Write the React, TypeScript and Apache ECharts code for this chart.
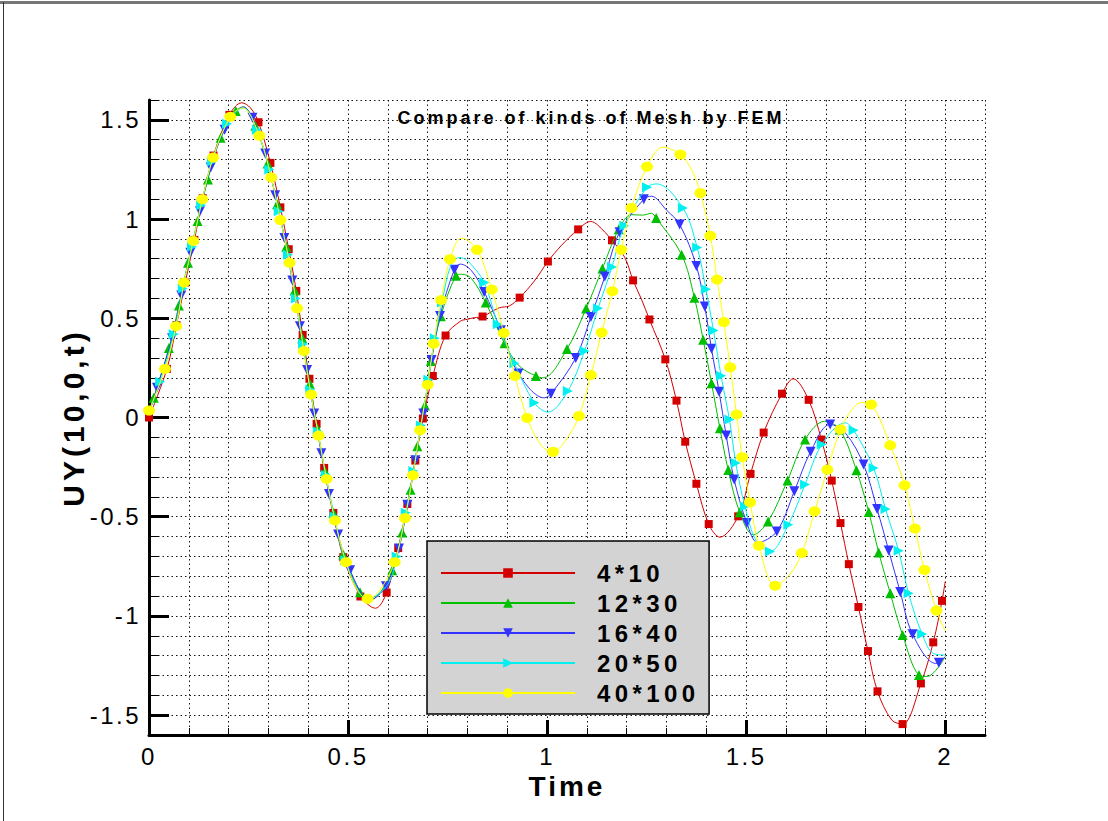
import React, { useEffect, useRef } from "react";
import * as echarts from "echarts";

const titleText = "Compare of kinds of Mesh by FEM";
const xName = "Time";
const yName = "UY(10,0,t)";
const seriesNames = ["4*10", "12*30", "16*40", "20*50", "40*100"];
const seriesColors = ["#d40000", "#00c000", "#3333ff", "#00f0f0", "#ffff00"];
const xLabelValues = [0, 0.5, 1, 1.5, 2];
const yLabelValues = [-1.5, -1, -0.5, 0, 0.5, 1, 1.5];

// rows: [time, UY, 1 = drawn with a marker / 0 = curve point only]
const mesh4x10 = [
  [0, 0.0, 1], [0.045, 0.245, 1], [0.069, 0.465, 1], [0.091, 0.68, 1], [0.114, 0.895, 1],
  [0.135, 1.105, 1], [0.162, 1.32, 1], [0.202, 1.525, 1], [0.233, 1.586, 0], [0.255, 1.56, 0],
  [0.275, 1.488, 1], [0.305, 1.283, 1], [0.33, 1.059, 1], [0.351, 0.848, 1], [0.37, 0.638, 1],
  [0.386, 0.416, 1], [0.403, 0.195, 1], [0.421, -0.032, 1], [0.44, -0.254, 1], [0.463, -0.481, 1],
  [0.488, -0.704, 1], [0.531, -0.902, 1], [0.555, -0.95, 0], [0.569, -0.961, 0], [0.597, -0.882, 1],
  [0.626, -0.658, 1], [0.649, -0.436, 1], [0.669, -0.217, 1], [0.688, -0.005, 1], [0.713, 0.209, 1],
  [0.745, 0.413, 1], [0.783, 0.486, 0], [0.8, 0.495, 0], [0.817, 0.503, 0], [0.838, 0.509, 1],
  [0.88, 0.553, 0], [0.905, 0.562, 0], [0.931, 0.604, 1], [0.968, 0.688, 0], [1.002, 0.786, 1],
  [1.035, 0.865, 0], [1.078, 0.948, 1], [1.11, 0.988, 0], [1.127, 0.97, 0], [1.163, 0.893, 1],
  [1.195, 0.807, 0], [1.216, 0.691, 1], [1.237, 0.596, 0], [1.257, 0.494, 1], [1.297, 0.293, 1],
  [1.325, 0.085, 1], [1.347, -0.122, 1], [1.375, -0.334, 1], [1.406, -0.537, 1], [1.434, -0.603, 0],
  [1.48, -0.498, 1], [1.511, -0.284, 1], [1.544, -0.076, 1], [1.59, 0.12, 1], [1.618, 0.195, 0],
  [1.657, 0.089, 1], [1.689, -0.111, 1], [1.715, -0.318, 1], [1.737, -0.532, 1], [1.758, -0.739, 1],
  [1.782, -0.955, 1], [1.806, -1.177, 1], [1.83, -1.38, 1], [1.866, -1.525, 0], [1.893, -1.545, 1],
  [1.939, -1.34, 1], [1.97, -1.133, 1], [1.992, -0.924, 1], [2.0, -0.827, 0],
];

const mesh12x30 = [
  [0, 0.02, 0], [0.012, 0.1, 1], [0.05, 0.35, 1], [0.075, 0.565, 1], [0.098, 0.78, 1],
  [0.122, 0.99, 1], [0.148, 1.2, 1], [0.18, 1.41, 1], [0.218, 1.545, 1], [0.237, 1.565, 0],
  [0.267, 1.47, 1], [0.298, 1.28, 1], [0.322, 1.075, 1], [0.345, 0.86, 1], [0.366, 0.64, 1],
  [0.385, 0.4, 1], [0.404, 0.17, 1], [0.423, -0.055, 1], [0.442, -0.27, 1], [0.463, -0.48, 1],
  [0.488, -0.69, 1], [0.53, -0.88, 1], [0.555, -0.92, 0], [0.585, -0.87, 0], [0.611, -0.77, 1],
  [0.636, -0.58, 1], [0.657, -0.364, 1], [0.674, -0.145, 1], [0.693, 0.06, 1], [0.708, 0.285, 1],
  [0.733, 0.51, 1], [0.771, 0.714, 1], [0.785, 0.722, 0], [0.81, 0.7, 0], [0.846, 0.579, 1],
  [0.893, 0.374, 1], [0.93, 0.26, 0], [0.972, 0.209, 1], [0.99, 0.2, 0], [1.05, 0.345, 1],
  [1.098, 0.549, 1], [1.139, 0.751, 1], [1.18, 0.949, 1], [1.212, 1.022, 0], [1.24, 1.02, 0],
  [1.262, 1.029, 0], [1.274, 1.005, 1], [1.338, 0.82, 1], [1.37, 0.604, 1], [1.392, 0.392, 1],
  [1.413, 0.173, 1], [1.434, -0.054, 1], [1.455, -0.265, 1], [1.484, -0.478, 1], [1.518, -0.591, 0],
  [1.555, -0.524, 1], [1.604, -0.317, 1], [1.648, -0.111, 1], [1.697, -0.019, 0], [1.735, -0.06, 1],
  [1.777, -0.266, 1], [1.808, -0.476, 1], [1.833, -0.68, 1], [1.862, -0.886, 1], [1.893, -1.096, 1],
  [1.934, -1.298, 1], [1.955, -1.305, 0], [2.0, -1.205, 0],
];

const mesh16x40 = [
  [0, 0.02, 0], [0.02, 0.15, 1], [0.058, 0.4, 1], [0.081, 0.615, 1], [0.104, 0.83, 1],
  [0.128, 1.04, 1], [0.155, 1.26, 1], [0.19, 1.45, 1], [0.237, 1.565, 0], [0.26, 1.51, 1],
  [0.292, 1.33, 1], [0.317, 1.12, 1], [0.34, 0.905, 1], [0.36, 0.69, 1], [0.379, 0.46, 1],
  [0.397, 0.24, 1], [0.415, 0.02, 1], [0.433, -0.18, 1], [0.452, -0.385, 1], [0.475, -0.59, 1],
  [0.505, -0.77, 1], [0.555, -0.92, 0], [0.595, -0.85, 1], [0.628, -0.66, 1], [0.649, -0.44, 1],
  [0.669, -0.215, 1], [0.689, 0.02, 1], [0.71, 0.29, 1], [0.731, 0.512, 1], [0.767, 0.745, 1],
  [0.782, 0.773, 0], [0.81, 0.74, 0], [0.842, 0.633, 1], [0.884, 0.44, 1], [0.928, 0.222, 1],
  [0.993, 0.099, 0], [1.01, 0.12, 1], [1.072, 0.3, 1], [1.11, 0.507, 1], [1.145, 0.71, 1],
  [1.182, 0.933, 1], [1.243, 1.1, 1], [1.262, 1.115, 0], [1.3, 1.045, 0], [1.333, 0.973, 1],
  [1.375, 0.764, 1], [1.396, 0.559, 1], [1.413, 0.347, 1], [1.432, 0.13, 1], [1.45, -0.091, 1],
  [1.47, -0.313, 1], [1.502, -0.532, 1], [1.529, -0.63, 0], [1.577, -0.574, 1], [1.621, -0.372, 1],
  [1.662, -0.172, 1], [1.711, -0.035, 1], [1.75, -0.08, 0], [1.795, -0.237, 1], [1.829, -0.461, 1],
  [1.858, -0.67, 1], [1.887, -0.879, 1], [1.918, -1.092, 1], [1.976, -1.239, 0], [1.984, -1.236, 1],
  [2.0, -1.205, 0],
];

const mesh20x50 = [
  [0, 0.03, 0], [0.028, 0.18, 1], [0.062, 0.42, 1], [0.085, 0.65, 1], [0.108, 0.86, 1],
  [0.131, 1.07, 1], [0.158, 1.29, 1], [0.196, 1.48, 1], [0.237, 1.56, 0], [0.271, 1.45, 1],
  [0.302, 1.25, 1], [0.326, 1.04, 1], [0.349, 0.82, 1], [0.369, 0.6, 1], [0.387, 0.37, 1],
  [0.405, 0.14, 1], [0.424, -0.07, 1], [0.444, -0.29, 1], [0.466, -0.5, 1], [0.493, -0.72, 1],
  [0.55, -0.915, 0], [0.6, -0.84, 0], [0.622, -0.7, 1], [0.645, -0.48, 1], [0.664, -0.27, 1],
  [0.683, -0.04, 1], [0.702, 0.19, 1], [0.718, 0.4, 1], [0.736, 0.58, 1], [0.757, 0.76, 0],
  [0.779, 0.806, 0], [0.8, 0.79, 0], [0.842, 0.68, 1], [0.876, 0.47, 1], [0.918, 0.273, 1],
  [0.968, 0.074, 1], [1.002, 0.027, 0], [1.052, 0.133, 1], [1.094, 0.335, 1], [1.128, 0.55, 1],
  [1.163, 0.758, 1], [1.194, 0.966, 1], [1.251, 1.16, 1], [1.275, 1.177, 0], [1.341, 1.056, 1],
  [1.377, 0.857, 1], [1.399, 0.646, 1], [1.418, 0.438, 1], [1.437, 0.21, 1], [1.458, -0.01, 1],
  [1.474, -0.229, 1], [1.497, -0.448, 1], [1.525, -0.62, 0], [1.56, -0.675, 1], [1.606, -0.54, 1],
  [1.648, -0.338, 1], [1.69, -0.136, 1], [1.749, -0.027, 0], [1.77, -0.064, 1], [1.82, -0.254, 1],
  [1.85, -0.461, 1], [1.883, -0.672, 1], [1.908, -0.886, 1], [1.942, -1.091, 1], [1.971, -1.19, 0],
  [2.0, -1.197, 0],
];

const mesh40x100 = [
  [0, 0.035, 1], [0.04, 0.245, 1], [0.068, 0.46, 1], [0.088, 0.68, 1], [0.111, 0.89, 1],
  [0.134, 1.1, 1], [0.161, 1.31, 1], [0.204, 1.515, 1], [0.235, 1.56, 0], [0.277, 1.42, 1],
  [0.307, 1.21, 1], [0.33, 0.995, 1], [0.353, 0.78, 1], [0.372, 0.55, 1], [0.389, 0.335, 1],
  [0.407, 0.116, 1], [0.426, -0.091, 1], [0.446, -0.31, 1], [0.467, -0.519, 1], [0.495, -0.729, 1],
  [0.52, -0.86, 0], [0.549, -0.914, 1], [0.58, -0.87, 0], [0.617, -0.729, 1], [0.643, -0.507, 1],
  [0.663, -0.291, 1], [0.681, -0.064, 1], [0.7, 0.165, 1], [0.715, 0.372, 1], [0.734, 0.592, 1],
  [0.756, 0.798, 1], [0.785, 0.904, 0], [0.824, 0.845, 1], [0.861, 0.645, 1], [0.891, 0.426, 1],
  [0.919, 0.209, 1], [0.95, -0.002, 1], [0.985, -0.14, 0], [1.015, -0.173, 1], [1.045, -0.12, 0],
  [1.08, 0.007, 1], [1.11, 0.214, 1], [1.137, 0.428, 1], [1.164, 0.636, 1], [1.186, 0.845, 1],
  [1.212, 1.056, 1], [1.251, 1.264, 1], [1.291, 1.362, 0], [1.335, 1.325, 1], [1.365, 1.24, 0],
  [1.385, 1.131, 1], [1.41, 0.916, 1], [1.427, 0.695, 1], [1.444, 0.481, 1], [1.46, 0.253, 1],
  [1.476, 0.015, 1], [1.49, -0.2, 1], [1.51, -0.428, 1], [1.532, -0.646, 1], [1.573, -0.848, 1],
  [1.61, -0.79, 0], [1.64, -0.683, 1], [1.672, -0.473, 1], [1.704, -0.263, 1], [1.737, -0.06, 1],
  [1.766, 0.04, 0], [1.79, 0.075, 0], [1.814, 0.065, 1], [1.862, -0.14, 1], [1.898, -0.342, 1],
  [1.924, -0.56, 1], [1.948, -0.768, 1], [1.978, -0.973, 1], [2.0, -1.076, 0],
];

const seriesRows = [mesh4x10, mesh12x30, mesh16x40, mesh20x50, mesh40x100];
const seriesSymbols = ["rect", "triangle", "triangle", "triangle", "circle"];
const seriesSymbolRotate = [0, 0, 180, -90, 0];
const seriesSymbolSize: any[] = [8, 10, 10, 10, [12, 10]];

const fontReg = "'Liberation Sans', Arial, sans-serif";

function toData(rows: number[][]) {
  return rows.map(([t, y, m]) =>
    m ? { value: [t, y] } : { value: [t, y], symbol: "none" }
  );
}

const tickStrings = ["0", "0.5", "1", "1.5", "2", "-0.5", "-1", "-1.5"];

function spacingFor(s: string): number {
  if (s === titleText) return 3;
  if (seriesNames.includes(s)) return 4.4;
  if (s === xName) return 3;
  if (s === yName) return 4;
  if (tickStrings.includes(s)) return 2.5;
  return 0;
}

export default function App() {
  const ref = useRef<HTMLDivElement>(null);
  useEffect(() => {
    document.body.style.margin = "0";
    const el = ref.current!;
    const chart = echarts.init(el, undefined, { renderer: "svg" });

    const series = seriesRows.map((rows, i) => ({
      name: seriesNames[i],
      type: "line",
      data: toData(rows),
      smooth: 0.35,
      symbol: seriesSymbols[i],
      symbolSize: seriesSymbolSize[i],
      symbolRotate: seriesSymbolRotate[i],
      showSymbol: true,
      lineStyle: { width: 1, color: seriesColors[i] },
      itemStyle: { color: seriesColors[i], borderWidth: 0 },
      emphasis: { disabled: true },
      silent: true,
      z: 3 + i,
    }));

    chart.setOption({
      animation: false,
      backgroundColor: "#ffffff",
      title: {
        text: titleText,
        left: 586,
        top: 104,
        textAlign: "center",
        textStyle: { fontFamily: fontReg, fontSize: 18, fontWeight: "bold", color: "#000" },
      },
      legend: {
        orient: "vertical",
        left: 427,
        top: 541,
        backgroundColor: "#d3d3d3",
        borderColor: "#000",
        borderWidth: 1.5,
        borderRadius: 0,
        padding: [20, 36, 9, 13],
        itemGap: 6,
        itemWidth: 134,
        itemHeight: 12,
        selectedMode: false,
        data: seriesNames,
        textStyle: {
          fontFamily: fontReg,
          fontSize: 24,
          fontWeight: "bold",
          color: "#000",
          padding: [0, 0, 0, 17],
        },
      },
      grid: { left: 149, right: 123, top: 100, bottom: 86, containLabel: false },
      xAxis: [
        {
          type: "value",
          min: 0,
          max: 2.1,
          interval: 0.1,
          name: xName,
          nameLocation: "middle",
          nameGap: 29,
          nameTextStyle: { fontFamily: fontReg, fontSize: 28, fontWeight: "bold", color: "#000" },
          axisLine: { show: true, onZero: false, lineStyle: { color: "#000", width: 3 } },
          axisTick: { show: true, inside: true, length: 7, lineStyle: { color: "#000", width: 1 } },
          axisLabel: {
            customValues: xLabelValues,
            margin: 9,
            fontFamily: fontReg,
            fontSize: 24,
            color: "#000",
          },
          splitLine: { show: true, lineStyle: { color: "#111", width: 1, type: [1.5, 3] } },
        },
        {
          type: "value",
          min: 0,
          max: 2.1,
          interval: 0.1,
          position: "bottom",
          offset: 0,
          axisLine: { show: false, onZero: false },
          axisTick: {
            show: true,
            inside: true,
            length: 15,
            customValues: xLabelValues,
            lineStyle: { color: "#000", width: 3 },
          },
          axisLabel: { show: false },
          splitLine: { show: false },
        },
      ],
      yAxis: [
        {
          type: "value",
          min: -1.6,
          max: 1.6,
          interval: 0.1,
          name: yName,
          nameLocation: "middle",
          nameGap: 58,
          nameRotate: 90,
          nameTextStyle: { fontFamily: fontReg, fontSize: 30, fontWeight: "bold", color: "#000" },
          axisLine: { show: true, onZero: false, lineStyle: { color: "#000", width: 3 } },
          axisTick: { show: true, inside: true, length: 10, lineStyle: { color: "#000", width: 1 } },
          axisLabel: {
            customValues: yLabelValues,
            margin: 8,
            fontFamily: fontReg,
            fontSize: 24,
            color: "#000",
          },
          splitLine: { show: true, lineStyle: { color: "#111", width: 1, type: [1.5, 3] } },
        },
        {
          type: "value",
          min: -1.6,
          max: 1.6,
          interval: 0.1,
          position: "left",
          offset: 0,
          axisLine: { show: false, onZero: false },
          axisTick: {
            show: true,
            inside: true,
            length: 20,
            customValues: yLabelValues,
            lineStyle: { color: "#000", width: 3 },
          },
          axisLabel: { show: false },
          splitLine: { show: false },
        },
      ],
      graphic: [
        {
          type: "line",
          shape: { x1: 0, y1: 2.5, x2: 1108, y2: 2.5 },
          style: { stroke: "#777", lineWidth: 3 },
          silent: true,
        },
        {
          type: "line",
          shape: { x1: 3.5, y1: 2, x2: 3.5, y2: 821 },
          style: { stroke: "#333", lineWidth: 1 },
          silent: true,
        },
      ],
      series,
    });

    const applySpacing = () => {
      el.querySelectorAll("text").forEach((t) => {
        const ls = spacingFor((t.textContent || "").trim());
        if (ls) t.setAttribute("letter-spacing", String(ls));
      });
    };
    applySpacing();
    chart.on("finished", applySpacing);
    const timer = window.setTimeout(applySpacing, 50);

    return () => {
      window.clearTimeout(timer);
      chart.dispose();
    };
  }, []);

  return <div ref={ref} style={{ width: 1108, height: 821 }} />;
}
